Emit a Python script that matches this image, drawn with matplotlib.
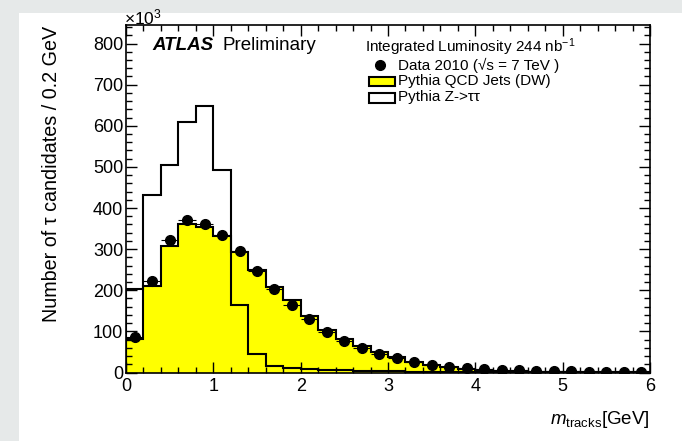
#!/usr/bin/python3
"""ATLAS tau candidate track mass distribution"""

import numpy as np
import matplotlib
matplotlib.use('Agg')

import matplotlib.pyplot as plt
from matplotlib.patches import Rectangle
from matplotlib.ticker import MultipleLocator

# bin edges, 0.2 GeV wide
edges = np.round(np.arange(0, 6.01, 0.2), 1)
centers = edges[:-1] + 0.1

# counts in units of 10^3
qcd = [81, 211, 308, 361, 355, 333, 292, 249, 209, 176,
       137, 103, 81, 64, 49, 37, 26, 19, 13, 9,
       6, 4, 3, 2, 1.5, 1, 1, 0.8, 0.6, 0.5]
ztautau = [203, 432, 505, 609, 649, 493, 163, 44, 17, 10,
           8, 6, 5, 4, 3, 2.5, 2, 1.5, 1, 0.8,
           0.6, 0.5, 0.4, 0.3, 0.2, 0.2, 0.1, 0.1, 0.1, 0.1]
data = [87, 223, 322, 372, 362, 334, 295, 248, 203, 163,
        129, 99, 77, 59, 44, 35, 26, 18, 14, 12,
        9, 6, 5, 4, 3, 3, 2, 2, 2, 2]

W, H = 682, 441
plt.rcParams['font.family'] = ['Liberation Sans', 'DejaVu Sans']
plt.rcParams['mathtext.fontset'] = 'custom'
plt.rcParams['mathtext.rm'] = 'Liberation Sans'
plt.rcParams['mathtext.it'] = 'Liberation Sans:italic'


def px(x, y):
    # pixel position -> figure fraction
    return x / W, 1 - y / H


def main():
    fig = plt.figure(figsize=(W / 100, H / 100), dpi=100)
    fig.patch.set_facecolor('#e6e9e9')
    fig.patches.append(Rectangle(px(19, H), (W - 19) / W, (H - 13) / H,
                                 transform=fig.transFigure, facecolor='white',
                                 edgecolor='none', zorder=-5))

    ax = fig.add_axes([126 / W, 1 - 372.5 / H, (650 - 126) / W, (372.5 - 25) / H])
    ax.set_zorder(1)

    ax.stairs(qcd, edges, fill=True, facecolor='#ffff00', edgecolor='none', zorder=1)
    ax.stairs(qcd, edges, color='black', linewidth=1.5, zorder=2)
    ax.stairs(ztautau, edges, color='black', linewidth=1.5, zorder=3)
    ax.errorbar(centers, data, xerr=0.1, fmt='o', color='black', markersize=7,
                elinewidth=0.8, capsize=0, linestyle='none', zorder=4)

    ax.set_xlim(0, 6)
    ax.set_ylim(0, 845)
    ax.xaxis.set_major_locator(MultipleLocator(1))
    ax.xaxis.set_minor_locator(MultipleLocator(0.2))
    ax.yaxis.set_major_locator(MultipleLocator(100))
    ax.yaxis.set_minor_locator(MultipleLocator(20))
    ax.tick_params(which='both', direction='in', top=True, right=True,
                   labelsize=13, width=1)
    ax.tick_params(which='major', length=8)
    ax.tick_params(which='minor', length=4)
    ax.tick_params(axis='x', pad=4)
    ax.tick_params(axis='y', pad=2)
    for s in ax.spines.values():
        s.set_linewidth(1.2)

    fig.text(*px(124, 17), '×10$^3$', fontsize=12.5, va='center', ha='left')

    fig.text(*px(52, 26), 'Number of τ candidates / 0.2 GeV', rotation=90,
             fontsize=14.2, ha='center', va='top')
    fig.text(*px(650, 420), r'$m_{\rm tracks}$[GeV]', fontsize=13.5,
             ha='right', va='center')

    fig.text(*px(152, 45), 'ATLAS', fontsize=13.5, fontweight='bold',
             fontstyle='italic', va='center')
    fig.text(*px(222, 45), 'Preliminary', fontsize=13.5, va='center')

    fig.text(*px(365, 47), r'Integrated Luminosity 244 nb$^{\mathregular{-1}}$',
             fontsize=11, va='center')
    fig.text(*px(398, 65), 'Data 2010 (√s = 7 TeV )', fontsize=11, va='center')
    fig.text(*px(398, 81.5), 'Pythia QCD Jets (DW)', fontsize=11, va='center')
    fig.text(*px(398, 97.5), 'Pythia Z->ττ', fontsize=11, va='center')

    lx, ly = px(380, 65)
    fig.lines.append(plt.Line2D([lx], [ly], marker='o', color='black',
                                markersize=7, transform=fig.transFigure))
    for yy, fc in ((81.5, '#ffff00'), (98, 'white')):
        bx, by = px(369, yy + 4.5)
        fig.patches.append(Rectangle((bx, by), 26 / W, 9 / H,
                                     transform=fig.transFigure, facecolor=fc,
                                     edgecolor='black', linewidth=1.5))

    plt.savefig("out.png", dpi=100)


if __name__ == "__main__":
    main()
